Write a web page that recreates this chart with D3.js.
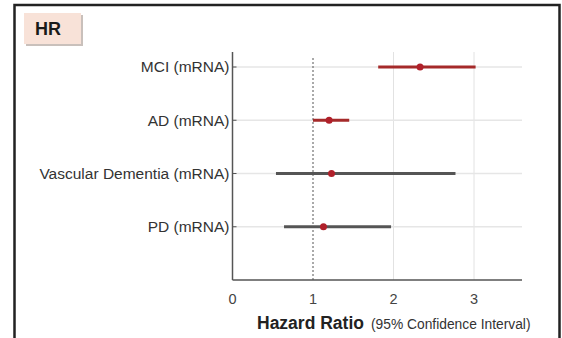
<!DOCTYPE html>
<html>
<head>
<meta charset="utf-8">
<script src="https://cdn.jsdelivr.net/npm/d3@7"></script>
<style>
  body { margin: 0; background: #fff; }
  svg { display: block; font-family: "Liberation Sans", Arial, sans-serif; }
</style>
</head>
<body>
<svg id="chart"></svg>
<script>
// data
var groups = ['MCI (mRNA)', 'AD (mRNA)', 'Vascular Dementia (mRNA)', 'PD (mRNA)'];
var hr = [2.33, 1.20, 1.23, 1.13];
var lower = [1.81, 1.00, 0.54, 0.64];
var upper = [3.02, 1.45, 2.77, 1.97];
var lineColors = ['#a52a2a', '#a52a2a', '#555555', '#555555'];
var xTicks = [0, 1, 2, 3];

var width = 562, height = 338;

var svg = d3.select('#chart')
	.attr('width', width)
	.attr('height', height);

// outer frame
svg.append('rect')
	.attr('x', 14.5)
	.attr('y', 5)
	.attr('width', 545)
	.attr('height', 345)
	.style('fill', '#fff')
	.style('stroke', '#222')
	.style('stroke-width', 2.5);

// HR label box
svg.append('rect')
	.attr('x', 26)
	.attr('y', 15)
	.attr('width', 57)
	.attr('height', 31)
	.style('fill', '#c9c0bb');
svg.append('rect')
	.attr('x', 24)
	.attr('y', 13)
	.attr('width', 57)
	.attr('height', 31)
	.style('fill', '#f8e2d8');
svg.append('text')
	.attr('x', 48)
	.attr('y', 35)
	.attr('text-anchor', 'middle')
	.style('font-weight', 'bold')
	.style('font-size', '18px')
	.style('fill', '#1a1a1a')
	.text('HR');

var plotLeft = 232.5, plotRight = 522, plotTop = 52, plotBottom = 280;

var x = d3.scaleLinear()
	.domain([0, (plotRight - plotLeft) / 80.5])
	.range([plotLeft, plotRight]);

// rows: four groups, the axis sits where a fifth row would be
var y = d3.scaleLinear()
	.domain([0, 4])
	.range([67, plotBottom]);

// grid
svg.selectAll('.vgrid')
	.data([2, 3])
	.enter()
	.append('line')
	.attr('class', 'vgrid')
	.attr('x1', function(d) { return x(d); })
	.attr('x2', function(d) { return x(d); })
	.attr('y1', plotTop)
	.attr('y2', plotBottom)
	.style('stroke', '#e2e2e2')
	.style('stroke-width', 1);

svg.selectAll('.hgrid')
	.data(groups)
	.enter()
	.append('line')
	.attr('class', 'hgrid')
	.attr('x1', plotLeft)
	.attr('x2', plotRight)
	.attr('y1', function(d, i) { return y(i); })
	.attr('y2', function(d, i) { return y(i); })
	.style('stroke', '#e6e6e6')
	.style('stroke-width', 1.5);

// reference line at HR = 1
svg.append('line')
	.attr('x1', x(1))
	.attr('x2', x(1))
	.attr('y1', plotTop + 6)
	.attr('y2', plotBottom)
	.style('stroke', '#555')
	.style('stroke-width', 1)
	.style('stroke-dasharray', '2,2');

// axes
svg.append('line')
	.attr('x1', plotLeft)
	.attr('x2', plotLeft)
	.attr('y1', plotTop)
	.attr('y2', plotBottom)
	.style('stroke', '#555')
	.style('stroke-width', 1.5);

svg.append('line')
	.attr('x1', plotLeft)
	.attr('x2', plotRight)
	.attr('y1', plotBottom)
	.attr('y2', plotBottom)
	.style('stroke', '#555')
	.style('stroke-width', 1.5);

var rowLabel = svg.selectAll('.row-label')
	.data(groups)
	.enter()
	.append('g')
	.attr('class', 'row-label')
	.attr('transform', function(d, i) {
		return 'translate(' + plotLeft + ',' + y(i) + ')';
	});

rowLabel.append('line')
	.attr('x1', 0)
	.attr('x2', 4)
	.style('stroke', '#555')
	.style('stroke-width', 1);

rowLabel.append('text')
	.attr('x', -3)
	.attr('dy', '0.35em')
	.attr('text-anchor', 'end')
	.style('font-size', '15.5px')
	.style('fill', '#333')
	.text(function(d) { return d; });

// x tick labels
svg.selectAll('.x-tick')
	.data(xTicks)
	.enter()
	.append('text')
	.attr('class', 'x-tick')
	.attr('x', function(d) { return x(d); })
	.attr('y', 304)
	.attr('text-anchor', 'middle')
	.style('font-size', '14.5px')
	.style('fill', '#444')
	.text(function(d) { return d; });

// axis title
var title = svg.append('text')
	.attr('x', 257)
	.attr('y', 329)
	.style('fill', '#222');
title.append('tspan')
	.style('font-weight', 'bold')
	.style('font-size', '17.5px')
	.text('Hazard Ratio');
title.append('tspan')
	.attr('dx', 7)
	.style('font-size', '13.8px')
	.style('fill', '#333')
	.text('(95% Confidence Interval)');

// confidence intervals
svg.selectAll('.ci')
	.data(groups)
	.enter()
	.append('line')
	.attr('class', 'ci')
	.attr('x1', function(d, i) { return x(lower[i]); })
	.attr('x2', function(d, i) { return x(upper[i]); })
	.attr('y1', function(d, i) { return y(i); })
	.attr('y2', function(d, i) { return y(i); })
	.style('stroke', function(d, i) { return lineColors[i]; })
	.style('stroke-width', 3);

// point estimates
svg.selectAll('.pt')
	.data(groups)
	.enter()
	.append('circle')
	.attr('class', 'pt')
	.attr('cx', function(d, i) { return x(hr[i]); })
	.attr('cy', function(d, i) { return y(i); })
	.attr('r', 3.5)
	.style('fill', '#b0202a');
</script>
</body>
</html>
